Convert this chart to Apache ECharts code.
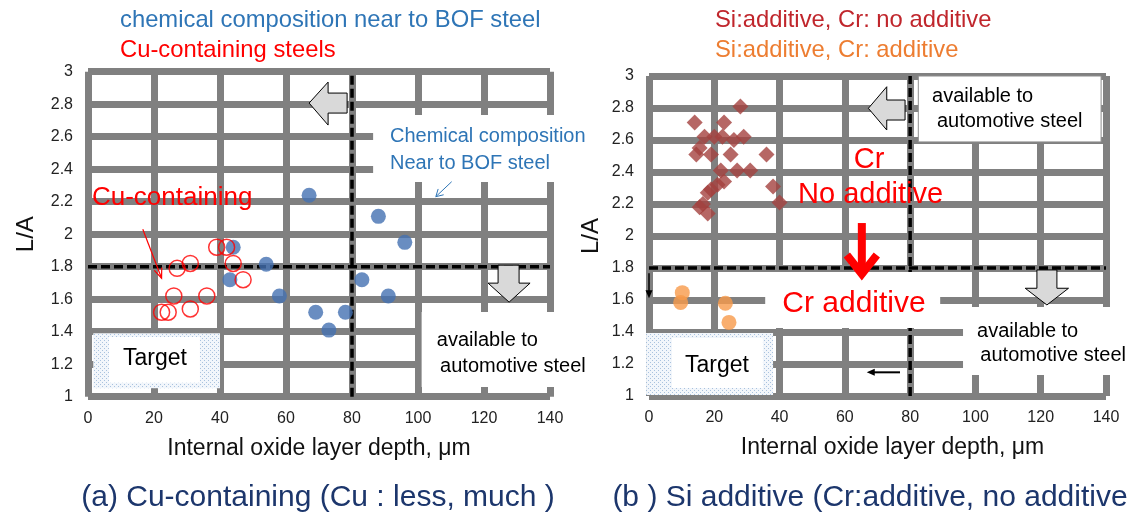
<!DOCTYPE html>
<html><head><meta charset="utf-8">
<script src="https://cdn.jsdelivr.net/npm/echarts@6/dist/echarts.min.js"></script>
<style>html,body{margin:0;padding:0;background:#fff}#c{width:1135px;height:517px}</style>
</head><body><div id="c"></div>
<script>
// ---------------- data ----------------
const xTicks = [0, 20, 40, 60, 80, 100, 120, 140];
const yTicks = ['1', '1.2', '1.4', '1.6', '1.8', '2', '2.2', '2.4', '2.6', '2.8', '3'];
const depthLimit = 80;   // µm threshold (dashed vertical)
const laLimit = 1.8;     // L/A threshold (dashed horizontal)

const namesA = ['chemical composition near to BOF steel', 'Cu-containing steels'];
const namesB = ['Si:additive, Cr: no additive', 'Si:additive, Cr: additive'];

const bofSteel = [[67, 2.24], [88, 2.11], [96, 1.95], [44, 1.92], [54, 1.815], [43, 1.72],
  [83, 1.72], [58, 1.62], [91, 1.62], [69, 1.52], [78, 1.52], [73, 1.41]];
const cuSteel = [[39, 1.92], [42, 1.92], [44, 1.82], [31, 1.82], [27, 1.79], [47, 1.72],
  [26, 1.62], [36, 1.62], [31, 1.54], [22.3, 1.52], [24.3, 1.52]];
const siNoCr = [[28, 2.81], [14, 2.71], [23, 2.71], [17, 2.62], [20, 2.62], [22.5, 2.62],
  [26, 2.60], [29, 2.62], [15.5, 2.55], [14.5, 2.51], [19, 2.51], [25, 2.51], [36, 2.51],
  [22, 2.41], [27, 2.41], [31, 2.41], [23, 2.34], [21, 2.32], [38, 2.31], [19, 2.29],
  [18, 2.27], [16.5, 2.20], [40, 2.21], [18, 2.14], [15.5, 2.18]];
const siCr = [[10.2, 1.646], [9.7, 1.585], [23.4, 1.58], [24.5, 1.46]];

// ---------------- chart ----------------
const FONT = '"Liberation Sans", Arial, sans-serif';
const xMin = xTicks[0], xMax = xTicks[xTicks.length - 1];
const yMin = Number(yTicks[0]), yMax = Number(yTicks[yTicks.length - 1]);

function xAx(i, namePad) {
  return {
    type: 'value', gridIndex: i, min: xMin, max: xMax, interval: 20,
    axisLine: { show: false }, axisTick: { show: false },
    splitLine: { show: true, lineStyle: { color: '#808080', width: 7 } },
    axisLabel: { fontSize: 16, color: '#222', margin: 14, fontFamily: FONT,
      formatter: v => String(xTicks[Math.round((v - xMin) / 20)]) },
    name: 'Internal oxide layer depth, μm', nameLocation: 'middle', nameGap: 40,
    nameTextStyle: { fontSize: 23, color: '#111', fontFamily: FONT, padding: namePad }
  };
}
function yAx(i, gap) {
  return {
    type: 'value', gridIndex: i, min: yMin, max: yMax, interval: 0.2,
    axisLine: { show: false }, axisTick: { show: false },
    splitLine: { show: true, lineStyle: { color: '#808080', width: 7 } },
    axisLabel: { fontSize: 16, color: '#222', margin: 15, fontFamily: FONT,
      formatter: v => yTicks[Math.round((v - yMin) / 0.2)] },
    name: 'L/A', nameLocation: 'middle', nameGap: gap, nameRotate: 90,
    nameTextStyle: { fontSize: 24, color: '#111', fontFamily: FONT }
  };
}
function dashed(i, data) {
  return { type: 'line', xAxisIndex: i, yAxisIndex: i, data: data, z: 1, silent: true,
    showSymbol: false, symbol: 'none',
    lineStyle: { color: '#000', width: 3.5, type: [9, 4] } };
}

const option = {
  animation: false,
  grid: [
    { left: 88, top: 71.7, width: 462, height: 325 },
    { left: 649, top: 76, width: 457, height: 320 }
  ],
  xAxis: [xAx(0, [0, 0, 0, 0]), xAx(1, [0, 0, 0, 30])],
  yAxis: [yAx(0, 50), yAx(1, 46)],
  legend: [
    { left: 105, top: 5, padding: 0, orient: 'vertical', itemGap: 0, itemWidth: 10, icon: 'none',
      selectedMode: false,
      textStyle: { fontSize: 23.8, fontFamily: FONT, lineHeight: 30 },
      data: [{ name: namesA[0], textStyle: { color: '#2E75B6' } },
             { name: namesA[1], textStyle: { color: '#FF0000' } }] },
    { left: 700, top: 5, padding: 0, orient: 'vertical', itemGap: 0, itemWidth: 10, icon: 'none',
      selectedMode: false,
      textStyle: { fontSize: 23.8, fontFamily: FONT, lineHeight: 30 },
      data: [{ name: namesB[0], textStyle: { color: '#C0262C' } },
             { name: namesB[1], textStyle: { color: '#ED7D31' } }] }
  ],
  series: [
    dashed(0, [[depthLimit, yMin], [depthLimit, yMax]]),
    dashed(0, [[xMin, laLimit], [xMax, laLimit]]),
    dashed(1, [[depthLimit, yMin], [depthLimit, yMax]]),
    dashed(1, [[xMin, laLimit], [xMax, laLimit]]),
    { name: namesA[0], type: 'scatter', xAxisIndex: 0, yAxisIndex: 0, z: 3, data: bofSteel,
      symbol: 'circle', symbolSize: 15, itemStyle: { color: '#4470B2' } },
    { name: namesA[1], type: 'scatter', xAxisIndex: 0, yAxisIndex: 0, z: 3, data: cuSteel,
      symbol: 'circle', symbolSize: 16,
      itemStyle: { color: 'rgba(255,255,255,0)', borderColor: '#FF0000', borderWidth: 1.5 } },
    { name: namesB[0], type: 'scatter', xAxisIndex: 1, yAxisIndex: 1, z: 3, data: siNoCr,
      symbol: 'diamond', symbolSize: 16, itemStyle: { color: '#A4413E' } },
    { name: namesB[1], type: 'scatter', xAxisIndex: 1, yAxisIndex: 1, z: 3, data: siCr,
      symbol: 'circle', symbolSize: 15, itemStyle: { color: '#F79A4A' } }
  ]
};

const chart = echarts.init(document.getElementById('c'), null, { renderer: 'canvas' });
chart.setOption(option);

// ---------------- annotations (anchored in data coordinates) ----------------
const P = (g, x, y) => chart.convertToPixel({ gridIndex: g }, [x, y]);
const els = [];
const pc = document.createElement('canvas');
pc.width = 4; pc.height = 4;
(function () {
  const c = pc.getContext('2d');
  c.fillStyle = '#F2F6FB'; c.fillRect(0, 0, 4, 4);
  c.fillStyle = '#A9C2DE'; c.fillRect(0, 0, 1, 1); c.fillRect(2, 2, 1, 1);
})();

function rectD(g, x1, y1, x2, y2, style, z) {
  const a = P(g, x1, y1), b = P(g, x2, y2);
  els.push({ type: 'rect', z: z || 2, silent: true,
    shape: { x: Math.min(a[0], b[0]), y: Math.min(a[1], b[1]),
      width: Math.abs(b[0] - a[0]), height: Math.abs(b[1] - a[1]) }, style: style });
}
function textD(g, x, y, text, size, color, align) {
  const a = P(g, x, y);
  els.push({ type: 'text', z: 6, silent: true, x: a[0], y: a[1],
    style: { text: text, fontSize: size, fontFamily: FONT, fill: color,
      textAlign: align || 'left', textVerticalAlign: 'middle', align: align || 'left', verticalAlign: 'middle' } });
}
function arrowD(g, x1, y1, x2, y2, color, w, hl, hw, open) {
  const a = P(g, x1, y1), b = P(g, x2, y2);
  const dx = b[0] - a[0], dy = b[1] - a[1], L = Math.hypot(dx, dy), ux = dx / L, uy = dy / L;
  const bx = b[0] - ux * hl, by = b[1] - uy * hl;
  const left = [bx - uy * hw, by + ux * hw], right = [bx + uy * hw, by - ux * hw];
  els.push({ type: 'line', z: 6, silent: true,
    shape: { x1: a[0], y1: a[1], x2: open ? b[0] : bx + ux, y2: open ? b[1] : by + uy },
    style: { stroke: color, lineWidth: w } });
  if (open) {
    els.push({ type: 'polyline', z: 6, silent: true, shape: { points: [left, b, right] },
      style: { stroke: color, lineWidth: w, fill: null } });
  } else {
    els.push({ type: 'polygon', z: 6, silent: true, shape: { points: [b, left, right] },
      style: { fill: color } });
  }
}
function blockD(g, x, y, pts) {
  const a = P(g, x, y);
  els.push({ type: 'polygon', z: 6, silent: true,
    shape: { points: pts.map(p => [a[0] + p[0], a[1] + p[1]]) },
    style: { fill: '#D9D9D9', stroke: '#000', lineWidth: 1 } });
}
const white = { fill: '#fff' };

// --- panel (a)
rectD(0, 86.4, 2.733, 158, 2.321, white);
rectD(0, 101.1, 1.521, 158, 1.06, white);
rectD(0, 1.6, 1.39, 40, 1.052, { fill: { image: pc, repeat: 'repeat' } });
rectD(0, 6.4, 1.367, 33.9, 1.086, white, 3);
textD(0, 20.3, 1.233, 'Target', 23, '#000', 'center');
textD(0, 91.5, 2.603, 'Chemical composition', 20, '#2E75B6');
textD(0, 91.5, 2.438, 'Near to BOF steel', 20, '#2E75B6');
arrowD(0, 110.2, 2.323, 105.4, 2.231, '#2E75B6', 1, 7, 4, true);
textD(0, 105.7, 1.343, 'available to', 20, '#000');
textD(0, 106.7, 1.183, 'automotive steel', 20, '#000');
textD(0, 1.2, 2.223, 'Cu-containing', 26, '#FF0000');
arrowD(0, 16.6, 2.03, 22.3, 1.729, '#FF0000', 1.2, 10, 4, true);
blockD(0, 67.0, 2.807, [[0, 0], [19, -21], [19, -10], [38, -10], [38, 10], [19, 10], [19, 22]]);
blockD(0, 127.6, 1.582, [[-11, -37], [10, -37], [10, -19], [21, -19], [0, 0], [-21, -19], [-11, -19]]);

// --- panel (b)
rectD(1, 82.5, 3.0, 138.5, 2.588, { fill: '#fff', stroke: '#8C8C8C', lineWidth: 1 });
rectD(1, 35.6, 1.775, 89.2, 1.425, white);
rectD(1, 96.2, 1.556, 152, 1.131, white);
rectD(1, -0.9, 1.394, 38, 1.006, { fill: { image: pc, repeat: 'repeat' } });
rectD(1, 7.05, 1.3625, 34.9, 1.05, white, 3);
textD(1, 20.8, 1.19, 'Target', 23, '#000', 'center');
textD(1, 86.7, 2.875, 'available to', 20, '#000');
textD(1, 88.2, 2.714, 'automotive steel', 20, '#000');
textD(1, 100.5, 1.402, 'available to', 20, '#000');
textD(1, 101.5, 1.256, 'automotive steel', 20, '#000');
textD(1, 67.4, 2.475, 'Cr', 29, '#FF0000', 'center');
textD(1, 67.9, 2.256, 'No additive', 29, '#FF0000', 'center');
textD(1, 62.8, 1.579, 'Cr additive', 30, '#FF0000', 'center');
blockD(1, 67.2, 2.798, [[0, 0], [18.4, -21.6], [18.4, -8.3], [36.7, -8.3], [36.7, 11.7], [18.4, 11.7], [18.4, 21.7]]);
blockD(1, 121.9, 1.569, [[-10, -35], [10, -35], [10, -16.7], [21.6, -16.7], [0, 0], [-21.7, -16.7], [-10, -16.7]]);
arrowD(1, 0, 1.767, 0, 1.611, '#000', 1.5, 8, 3.5, false);
arrowD(1, 76.9, 1.148, 66.7, 1.148, '#000', 2, 8, 3.5, false);
(function () {
  const t = P(1, 65.2, 1.744), s = P(1, 65.2, 2.081);
  els.push({ type: 'line', z: 6, silent: true, shape: { x1: s[0], y1: s[1], x2: t[0], y2: t[1] - 5 },
    style: { stroke: '#FF0000', lineWidth: 8 } });
  els.push({ type: 'polyline', z: 6, silent: true,
    shape: { points: [[t[0] - 15, t[1] - 22], [t[0], t[1] - 3], [t[0] + 15, t[1] - 22]] },
    style: { stroke: '#FF0000', lineWidth: 8, fill: null, lineJoin: 'miter' } });
})();

// --- captions
els.push({ type: 'text', z: 6, silent: true, x: 318, y: 498,
  style: { text: '(a) Cu-containing (Cu : less, much )', fontSize: 30, fontFamily: FONT, fill: '#1C366C',
    textAlign: 'center', textVerticalAlign: 'middle', align: 'center', verticalAlign: 'middle' } });
els.push({ type: 'text', z: 6, silent: true, x: 870, y: 498,
  style: { text: '(b ) Si additive (Cr:additive, no additive', fontSize: 30, fontFamily: FONT, fill: '#1C366C',
    textAlign: 'center', textVerticalAlign: 'middle', align: 'center', verticalAlign: 'middle' } });

chart.setOption({ graphic: { elements: els } });
</script>
</body></html>
